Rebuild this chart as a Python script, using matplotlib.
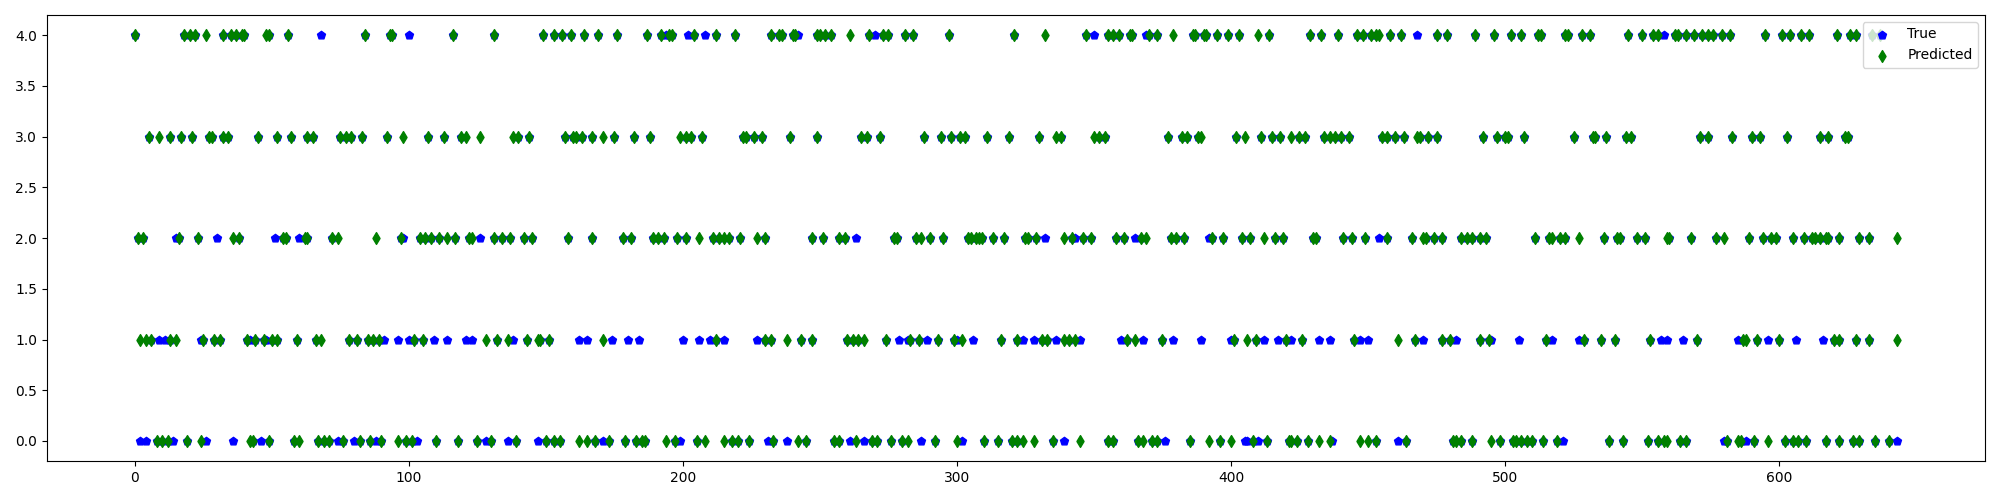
import matplotlib
matplotlib.use('Agg')
import matplotlib.pyplot as plt

# sample index of each predicted class (green diamonds), read row by row
pred_4 = [0, 18, 20, 22, 26, 32, 35, 37, 39, 40, 48, 49, 56, 84, 93, 94, 116, 131, 149, 153, 156, 159, 164, 169,
          176, 187, 192, 195, 196, 204, 212, 219, 232, 235, 236, 240, 241, 249, 250, 252, 254, 261, 268, 273, 275,
          281, 284, 297, 321, 332, 347, 355, 357, 359, 363, 364, 370, 373, 379, 386, 387, 390, 391, 395, 399, 403,
          410, 414, 429, 433, 439, 446, 448, 451, 453, 454, 458, 462, 475, 479, 489, 496, 502, 506, 512, 513, 522,
          523, 528, 531, 545, 550, 554, 556, 562, 563, 566, 569, 572, 574, 576, 579, 582, 595, 601, 604, 608, 611,
          621, 626, 628, 634, 637]
pred_3 = [5, 9, 13, 17, 21, 27, 28, 32, 34, 45, 52, 57, 63, 65, 75, 77, 79, 83, 92, 98, 107, 113, 119, 121, 126,
          138, 140, 144, 157, 160, 161, 163, 167, 171, 175, 182, 188, 199, 201, 203, 207, 222, 223, 226, 229, 239,
          249, 265, 267, 272, 288, 294, 298, 301, 303, 311, 319, 330, 336, 338, 350, 352, 354, 377, 382, 384, 388,
          389, 402, 405, 411, 415, 418, 422, 425, 427, 434, 436, 438, 440, 443, 455, 457, 460, 463, 468, 469, 472,
          475, 492, 497, 500, 501, 507, 525, 532, 533, 537, 544, 546, 571, 574, 583, 590, 593, 603, 615, 618, 624,
          625]
pred_2 = [1, 3, 16, 23, 36, 38, 54, 55, 62, 63, 72, 74, 88, 97, 104, 106, 108, 111, 114, 117, 122, 123, 131, 134,
          137, 142, 145, 158, 167, 178, 181, 189, 191, 193, 198, 201, 206, 211, 213, 215, 217, 221, 227, 230, 247,
          251, 257, 259, 277, 278, 285, 287, 290, 295, 304, 305, 307, 308, 309, 313, 317, 325, 326, 329, 339, 342,
          346, 349, 358, 361, 367, 369, 378, 380, 383, 393, 397, 404, 407, 412, 416, 419, 430, 431, 441, 444, 449,
          457, 466, 470, 471, 474, 477, 484, 486, 488, 491, 493, 511, 516, 517, 520, 522, 527, 536, 541, 542, 548,
          551, 559, 560, 568, 577, 580, 589, 594, 597, 599, 605, 609, 612, 613, 615, 617, 618, 622, 629, 633, 643]
pred_1 = [2, 4, 6, 13, 15, 25, 29, 31, 41, 44, 47, 50, 52, 59, 66, 68, 78, 81, 85, 87, 89, 102, 105, 128, 132, 136,
          143, 147, 148, 151, 171, 212, 230, 232, 238, 243, 247, 260, 262, 264, 266, 274, 283, 286, 293, 299, 302,
          316, 322, 331, 333, 339, 341, 343, 362, 365, 375, 401, 406, 409, 420, 426, 445, 461, 467, 477, 480, 491,
          494, 515, 529, 535, 540, 553, 570, 587, 588, 592, 600, 620, 622, 628, 633, 643]
pred_0 = [8, 10, 12, 19, 24, 42, 43, 49, 58, 60, 67, 69, 71, 76, 82, 86, 90, 96, 99, 101, 110, 118, 125, 130, 139,
          150, 153, 155, 162, 165, 168, 173, 179, 183, 185, 186, 194, 197, 205, 208, 215, 218, 220, 224, 233, 242,
          245, 255, 257, 263, 269, 271, 276, 280, 282, 292, 300, 310, 315, 320, 322, 324, 328, 335, 345, 355, 357,
          366, 368, 371, 373, 385, 392, 396, 400, 408, 413, 421, 422, 424, 428, 432, 436, 447, 450, 453, 464, 481,
          482, 484, 488, 495, 498, 503, 504, 506, 508, 510, 514, 519, 538, 543, 552, 556, 558, 559, 564, 566, 581,
          585, 586, 591, 596, 602, 605, 607, 610, 617, 622, 627, 629, 635, 640]

# samples where the true class differs (blue pentagons left visible)
true_4 = [68, 100, 194, 202, 208, 242, 270, 350, 369, 468, 558]
true_3 = []
true_2 = [15, 30, 51, 60, 98, 126, 263, 332, 343, 365, 392, 454]
true_1 = [9, 11, 24, 42, 48, 91, 96, 100, 109, 114, 121, 123, 138, 162, 165, 174, 180, 184, 200, 206, 210, 215,
          227, 279, 282, 289, 300, 306, 324, 328, 336, 345, 360, 368, 379, 389, 400, 412, 417, 422, 432, 436, 447,
          450, 470, 482, 495, 505, 517, 527, 557, 559, 565, 585, 596, 606, 616]
true_0 = [2, 4, 14, 26, 36, 46, 74, 80, 88, 103, 128, 136, 147, 171, 199, 231, 238, 261, 266, 287, 302, 339, 376,
          405, 406, 410, 437, 461, 521, 580, 588, 643]

pred_rows = [pred_0, pred_1, pred_2, pred_3, pred_4]
true_rows = [true_0, true_1, true_2, true_3, true_4]
wrong = set(i for r in true_rows for i in r)

xp, yp, xt, yt = [], [], [], []
for cls in range(5):
    for i in pred_rows[cls]:
        xp.append(i)
        yp.append(cls)
        if i not in wrong:
            xt.append(i)
            yt.append(cls)
    for i in true_rows[cls]:
        xt.append(i)
        yt.append(cls)

plt.figure(figsize=(20, 5), dpi=100)
plt.scatter(xt, yt, color='blue', marker='p', label='True')
plt.scatter(xp, yp, color='green', marker='d', label='Predicted')
plt.legend(loc='upper right')
plt.tight_layout()
plt.savefig('out.png')
